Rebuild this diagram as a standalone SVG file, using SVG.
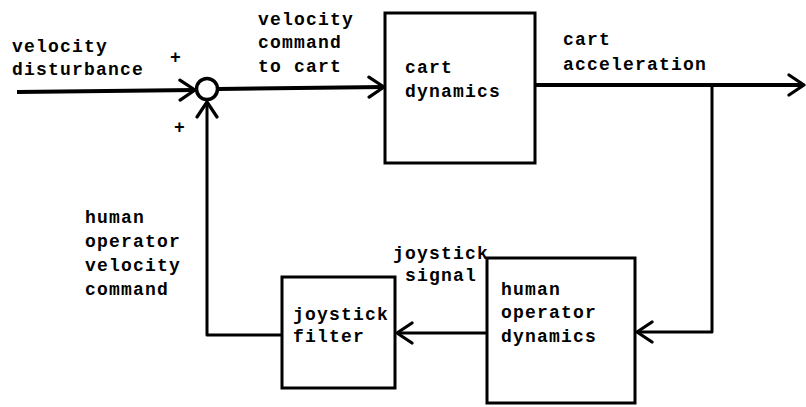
<svg xmlns="http://www.w3.org/2000/svg" width="806" height="407" viewBox="0 0 806 407">
<defs>
<style>
text { font-family: "Liberation Mono", "DejaVu Sans Mono", monospace; font-size: 18px; font-weight: bold; letter-spacing: 1.2px; fill: #000; }
.box { fill: #fff; stroke: #000; stroke-width: 3; }
.wire { fill: none; stroke: #000; stroke-width: 3; stroke-linejoin: round; }
.thick { stroke-width: 4; }
</style>
<marker id="arr" markerUnits="userSpaceOnUse" viewBox="-17 -12 19 24" refX="0" refY="0" markerWidth="19" markerHeight="24" orient="auto">
<path d="M-15 -10 L0 0 L-15 10" fill="none" stroke="#000" stroke-width="3.2" stroke-linecap="round" stroke-linejoin="round"/>
</marker>
</defs>
<rect width="806" height="407" fill="#fff"/>

<g id="connectors">
<path class="wire thick" d="M17 92 L195 90" marker-end="url(#arr)"/>
<path class="wire thick" d="M218 89 L384 87" marker-end="url(#arr)"/>
<path class="wire thick" d="M535 85 L804 85" marker-end="url(#arr)"/>
<path class="wire" d="M712 85 L712 332 L637 332" marker-end="url(#arr)"/>
<path class="wire" d="M487 333 L397 333" marker-end="url(#arr)"/>
<path class="wire" d="M282 335 L207 335 L207 102" marker-end="url(#arr)"/>
</g>

<g id="sum">
<circle cx="207" cy="89" r="10.5" fill="#fff" stroke="#000" stroke-width="3.5"/>
<text x="170" y="63">+</text>
<text x="174" y="133">+</text>
</g>

<g id="cart-dynamics">
<rect class="box" x="385" y="13" width="150" height="150"/>
<text x="405" y="73">cart</text>
<text x="405" y="97">dynamics</text>
</g>

<g id="human-operator-dynamics">
<rect class="box" x="487" y="258" width="148" height="145"/>
<text x="501" y="295">human</text>
<text x="501" y="318">operator</text>
<text x="501" y="342">dynamics</text>
</g>

<g id="joystick-filter">
<rect class="box" x="282" y="277" width="113" height="111"/>
<text x="293" y="320">joystick</text>
<text x="293" y="342">filter</text>
</g>

<g id="labels">
<text x="12" y="52">velocity</text>
<text x="12" y="75">disturbance</text>
<text x="258" y="25">velocity</text>
<text x="258" y="48">command</text>
<text x="258" y="72">to cart</text>
<text x="563" y="45">cart</text>
<text x="563" y="70">acceleration</text>
<text x="85" y="223">human</text>
<text x="85" y="247">operator</text>
<text x="85" y="271">velocity</text>
<text x="85" y="295">command</text>
<text x="393" y="259">joystick</text>
<text x="405" y="281">signal</text>
</g>
</svg>
